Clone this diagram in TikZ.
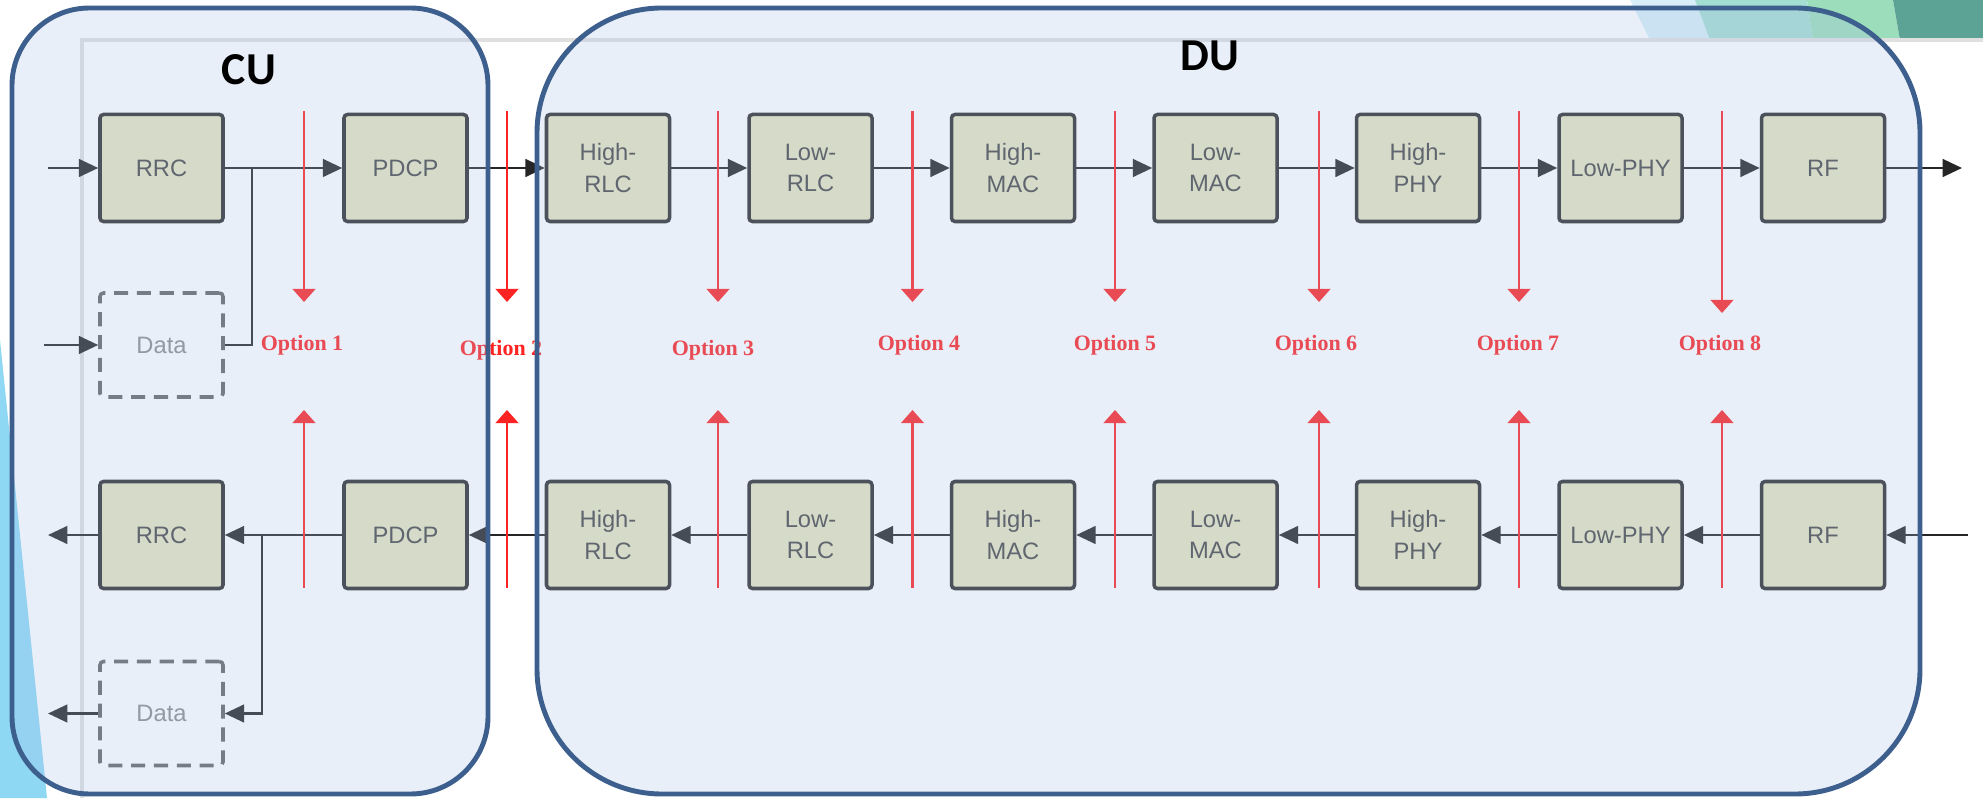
\documentclass[tikz,border=0pt]{standalone}
\usepackage{fontspec}
\setmainfont{Liberation Serif}
\newfontfamily\boxfont{Liberation Sans}
\newfontfamily\zonefont{Carlito}
\usepackage{tikz}
\usetikzlibrary{arrows.meta}
\usetikzlibrary{positioning}

\definecolor{layerfill}{HTML}{E5E5BE}
\definecolor{layerline}{HTML}{2E2E2E}
\definecolor{layertext}{HTML}{484848}
\definecolor{cutred}{HTML}{FF2424}
\definecolor{zoneblue}{HTML}{A8C0E6}
\definecolor{zoneline}{HTML}{3D5F8D}
\definecolor{skyblue}{HTML}{8FD8F4}
\definecolor{paleblue}{HTML}{D8EEF8}
\definecolor{paleteal}{HTML}{A4DDD2}
\definecolor{palegreen}{HTML}{9CDDBB}
\definecolor{darkteal}{HTML}{5CA396}

\tikzset{
  layer/.style={draw=layerline, line width=2pt, fill=layerfill, rounded corners=2pt,
    minimum width=2.46cm, minimum height=2.14cm, inner sep=0pt, align=center,
    text=layertext, font=\boxfont\fontsize{13.5}{18}\selectfont},
  databox/.style={layer, fill=none, draw=black!60, minimum height=2.08cm,
    dash pattern=on 8pt off 5pt, text=black!45},
  flow/.style={draw=black!85, line width=1.5pt, -{Triangle[length=11pt,width=10pt]}},
  link/.style={draw=black!85, line width=1.5pt},
  cut/.style={draw=cutred, line width=1.3pt, -{Triangle[length=7.5pt,width=13pt]}},
  cutlabel/.style={text=cutred, inner sep=1pt, font=\bfseries\fontsize{12.5}{14}\selectfont},
  zone/.style={draw=zoneline, line width=2.8pt, fill=zoneblue, fill opacity=0.25,
    draw opacity=1, inner sep=0pt},
  zonelabel/.style={font=\zonefont\bfseries\fontsize{26}{30}\selectfont},
}

\begin{document}
\begin{tikzpicture}[node distance=4.05cm, on grid]
  \fill[white] (0,0) rectangle (39.66,15.96);
  \useasboundingbox (0,0) rectangle (39.66,15.96);

  % slide decoration
  \fill[skyblue] (0,9.16) -- (0.94,0) -- (0,0) -- cycle;
  \fill[paleblue] (32.6,15.96) -- (33.9,15.96) -- (34.2,15.16) -- (33.0,15.16) -- cycle;
  \fill[paleteal] (33.9,15.96) -- (36.14,15.96) -- (36.26,15.16) -- (34.2,15.16) -- cycle;
  \fill[palegreen] (36.14,15.96) -- (37.86,15.96) -- (38.0,15.16) -- (36.26,15.16) -- cycle;
  \fill[darkteal] (37.86,15.96) -- (39.66,15.96) -- (39.66,15.16) -- (38.0,15.16) -- cycle;
  \draw[black!12, line width=2pt] (1.64,0) -- (1.64,15.16) -- (39.66,15.16);

  % downlink chain
  \node[layer] (rrcU) at (3.23,12.6) {RRC};
  \node[layer] (pdcpU) at (8.11,12.6) {PDCP};
  \node[layer, right=of pdcpU] (hrlcU) {High-\\RLC};
  \node[layer, right=of hrlcU] (lrlcU) {Low-\\RLC};
  \node[layer, right=of lrlcU] (hmacU) {High-\\MAC};
  \node[layer, right=of hmacU] (lmacU) {Low-\\MAC};
  \node[layer, right=of lmacU] (hphyU) {High-\\PHY};
  \node[layer, right=of hphyU] (lphyU) {Low-PHY};
  \node[layer, right=of lphyU] (rfU) {RF};
  \node[databox] (dataU) at (3.23,9.06) {Data};

  % uplink chain
  \node[layer] (rrcD) at (3.23,5.26) {RRC};
  \node[layer] (pdcpD) at (8.11,5.26) {PDCP};
  \node[layer, right=of pdcpD] (hrlcD) {High-\\RLC};
  \node[layer, right=of hrlcD] (lrlcD) {Low-\\RLC};
  \node[layer, right=of lrlcD] (hmacD) {High-\\MAC};
  \node[layer, right=of hmacD] (lmacD) {Low-\\MAC};
  \node[layer, right=of lmacD] (hphyD) {High-\\PHY};
  \node[layer, right=of hphyD] (lphyD) {Low-PHY};
  \node[layer, right=of lphyD] (rfD) {RF};
  \node[databox] (dataD) at (3.23,1.69) {Data};

  \coordinate (inU) at (0.96,12.6);
  \coordinate (outU) at (39.24,12.6);
  \coordinate (inData) at (0.88,9.06);
  \coordinate (tapU) at (5.04,12.6);
  \draw[flow] (inU) -- (rrcU);
  \draw[flow] (rrcU) -- (pdcpU);
  \draw[flow] (pdcpU) -- (hrlcU);
  \draw[flow] (hrlcU) -- (lrlcU);
  \draw[flow] (lrlcU) -- (hmacU);
  \draw[flow] (hmacU) -- (lmacU);
  \draw[flow] (lmacU) -- (hphyU);
  \draw[flow] (hphyU) -- (lphyU);
  \draw[flow] (lphyU) -- (rfU);
  \draw[flow] (rfU) -- (outU);
  \draw[flow] (inData) -- (dataU);
  \draw[link] (dataU.east) -| (tapU);

  \coordinate (inD) at (39.36,5.26);
  \coordinate (outD) at (0.96,5.26);
  \coordinate (outData) at (0.96,1.69);
  \coordinate (tapD) at (5.24,5.26);
  \draw[flow] (inD) -- (rfD);
  \draw[flow] (rfD) -- (lphyD);
  \draw[flow] (lphyD) -- (hphyD);
  \draw[flow] (hphyD) -- (lmacD);
  \draw[flow] (lmacD) -- (hmacD);
  \draw[flow] (hmacD) -- (lrlcD);
  \draw[flow] (lrlcD) -- (hrlcD);
  \draw[flow] (hrlcD) -- (pdcpD);
  \draw[flow] (pdcpD) -- (rrcD);
  \draw[flow] (rrcD) -- (outD);
  \draw[flow] (tapD) |- (dataD.east);
  \draw[flow] (dataD) -- (outData);

  % split options
  \coordinate (dtop) at (0,13.74);
  \coordinate (dtip) at (0,9.92);
  \coordinate (ubot) at (0,4.2);
  \coordinate (utip) at (0,7.76);
  \coordinate (cut1) at (6.08,0);
  \coordinate (cut2) at (10.14,0);
  \coordinate (cut3) at (14.36,0);
  \coordinate (cut4) at (18.25,0);
  \coordinate (cut5) at (22.3,0);
  \coordinate (cut6) at (26.38,0);
  \coordinate (cut7) at (30.38,0);
  \coordinate (cut8) at (34.44,0);
  \draw[cut] (cut1 |- dtop) -- (cut1 |- dtip);
  \draw[cut] (cut2 |- dtop) -- (cut2 |- dtip);
  \draw[cut] (cut3 |- dtop) -- (cut3 |- dtip);
  \draw[cut] (cut4 |- dtop) -- (cut4 |- dtip);
  \draw[cut] (cut5 |- dtop) -- (cut5 |- dtip);
  \draw[cut] (cut6 |- dtop) -- (cut6 |- dtip);
  \draw[cut] (cut7 |- dtop) -- (cut7 |- dtip);
  \draw[cut] (cut8 |- dtop) -- ++(0,-4.04);
  \draw[cut] (cut1 |- ubot) -- (cut1 |- utip);
  \draw[cut] (cut2 |- ubot) -- (cut2 |- utip);
  \draw[cut] (cut3 |- ubot) -- (cut3 |- utip);
  \draw[cut] (cut4 |- ubot) -- (cut4 |- utip);
  \draw[cut] (cut5 |- ubot) -- (cut5 |- utip);
  \draw[cut] (cut6 |- ubot) -- (cut6 |- utip);
  \draw[cut] (cut7 |- ubot) -- (cut7 |- utip);
  \draw[cut] (cut8 |- ubot) -- (cut8 |- utip);
  \node[cutlabel] (opt1) at (6.04,9.06) {Option 1};
  \node[cutlabel] (opt2) at (10.02,8.96) {Option 2};
  \node[cutlabel] (opt3) at (14.26,8.96) {Option 3};
  \node[cutlabel] (opt4) at (18.38,9.06) {Option 4};
  \node[cutlabel] (opt5) at (22.3,9.06) {Option 5};
  \node[cutlabel] (opt6) at (26.32,9.06) {Option 6};
  \node[cutlabel] (opt7) at (30.36,9.06) {Option 7};
  \node[cutlabel] (opt8) at (34.4,9.06) {Option 8};

  % CU / DU regions
  \node[zone, minimum width=9.52cm, minimum height=15.72cm, rounded corners=1.55cm]
    (cu) at (5.0,7.94) {};
  \node[zone, minimum width=27.66cm, minimum height=15.72cm, rounded corners=2.5cm]
    (du) at (24.57,7.94) {};
  \node[zonelabel] at (4.98,14.56) {CU};
  \node[zonelabel] at (24.2,14.84) {DU};
\end{tikzpicture}
\end{document}
